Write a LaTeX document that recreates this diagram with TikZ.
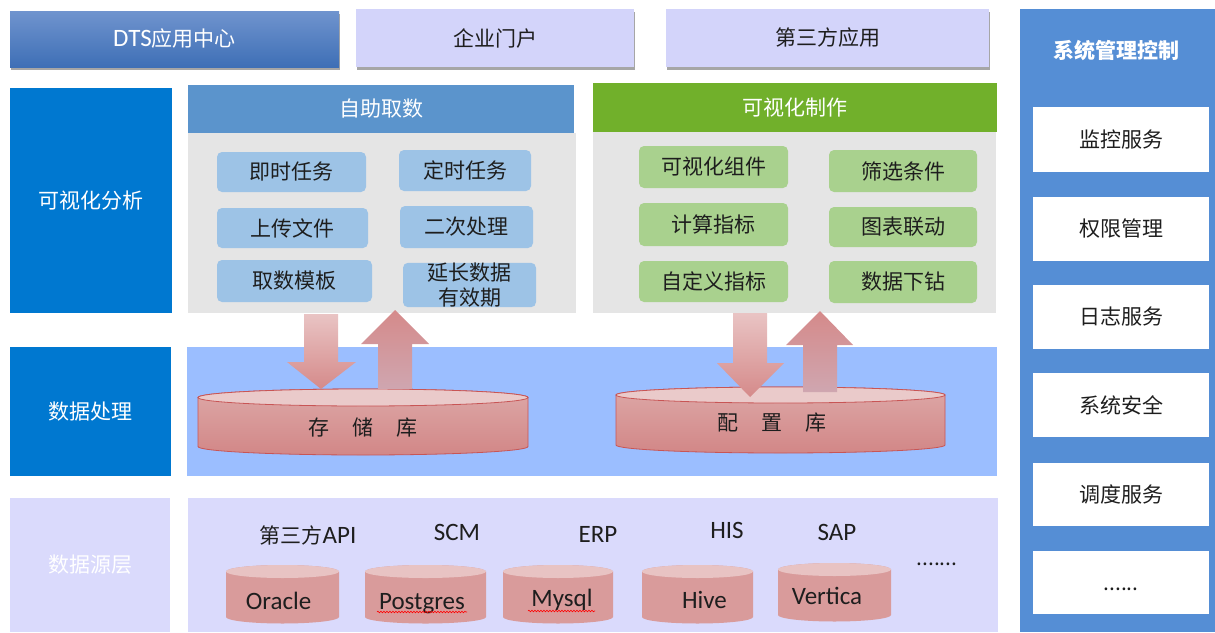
\documentclass[tikz,border=0pt]{standalone}
\usepackage{fontspec}
\setmainfont{Noto Sans CJK SC}
\newfontfamily\lat{Carlito}
\usetikzlibrary{shadows,decorations.pathmorphing}
\definecolor{dtsTop}{RGB}{112,148,206}
\definecolor{dtsBot}{RGB}{62,111,182}
\definecolor{lav}{RGB}{211,212,250}
\definecolor{lavsrc}{RGB}{218,218,252}
\definecolor{deepblue}{RGB}{0,120,208}
\definecolor{hdrblue}{RGB}{91,148,204}
\definecolor{panelgray}{RGB}{229,229,229}
\definecolor{itemblue}{RGB}{157,195,230}
\definecolor{hdrgreen}{RGB}{113,176,43}
\definecolor{itemgreen}{RGB}{169,209,142}
\definecolor{procblue}{RGB}{155,190,255}
\definecolor{sysblue}{RGB}{85,142,213}
\definecolor{cylTop}{RGB}{234,202,202}
\definecolor{cylHi}{RGB}{221,168,167}
\definecolor{cylLo}{RGB}{210,135,135}
\definecolor{cylEdge}{RGB}{200,85,85}
\definecolor{smallcyl}{RGB}{217,155,155}
\definecolor{smalltop}{RGB}{232,195,195}
\definecolor{arrLight}{RGB}{233,196,196}
\definecolor{arrDark}{RGB}{213,138,138}
\definecolor{arrMauve}{RGB}{207,166,176}
\definecolor{txt}{RGB}{30,30,30}
% style, x1, y1, x2, y2, name, text
\newcommand\mybox[7]{\node[#1,minimum width={#4-#2},minimum height={#5-#3}] (#6) at ({(#2+#4)/2},{(#3+#5)/2}) {#7};}
% body style, top style, cx, rx, ytop, ybot, ry
\newcommand\mycyl[7]{%
  \path[#1] ({#3-#4},#5) -- ({#3-#4},#6) arc[start angle=180,end angle=360,x radius=#4pt,y radius=#7pt]
     -- ({#3+#4},#5) arc[start angle=0,end angle=180,x radius=#4pt,y radius=#7pt] -- cycle;
  \path[#2] (#3,#5) ellipse [x radius=#4pt,y radius=#7pt];}
\newcommand\latf{\lat\fontsize{25}{28}\selectfont}
\begin{document}
\begin{tikzpicture}[x=1pt,y=-1pt,
  every node/.style={inner sep=0pt,outer sep=0pt,align=center,text=txt,font=\fontsize{21}{25}\selectfont},
  topbar/.style={drop shadow={shadow xshift=1pt,shadow yshift=-3pt,fill=black,opacity=0.35}},
  dtsbox/.style={topbar,top color=dtsTop,bottom color=dtsBot,text=white},
  lavbox/.style={topbar,fill=lav},
  sidelabel/.style={fill=deepblue,text=white},
  srclabel/.style={fill=lavsrc,text=white},
  hdrA/.style={fill=hdrblue,text=white},
  hdrB/.style={fill=hdrgreen,text=white},
  panel/.style={fill=panelgray},
  itemA/.style={fill=itemblue,rounded corners=5pt},
  itemB/.style={fill=itemgreen,rounded corners=5pt},
  band/.style={fill=procblue},
  srcband/.style={fill=lavsrc},
  sysbar/.style={fill=sysblue},
  sysitem/.style={fill=white},
  bigcyl/.style={top color=cylHi,bottom color=cylLo,draw=cylEdge,line width=0.8pt},
  bigtop/.style={fill=cylTop,draw=cylEdge,line width=0.8pt},
  smcyl/.style={fill=smallcyl},
  smtop/.style={fill=smalltop},
  dnarrow/.style={top color=arrLight,bottom color=arrDark},
  uparrow/.style={top color=arrDark,bottom color=arrMauve},
  latlbl/.style={font=\latf,text height=16pt,text depth=0pt},
  spell/.style={draw=red,line width=0.6pt,decorate,decoration={snake,amplitude=0.8pt,segment length=3pt}},
]
\useasboundingbox (0,0) rectangle (1215,632);
% top row
\mybox{dtsbox}{10}{11}{339}{67}{dts}{{\latf DTS}应用中心}
\mybox{lavbox}{356}{9}{634}{67}{portal}{企业门户}
\mybox{lavbox}{666}{9}{989}{67}{third}{第三方应用}
% left labels
\mybox{sidelabel}{10}{88}{172}{313}{va}{可视化分析}
\mybox{sidelabel}{10}{347}{171}{476}{dp}{数据处理}
\mybox{srclabel}{10}{498}{170}{632}{dsl}{数据源层}
% panels
\mybox{panel}{188}{133}{576}{313}{selfbody}{}
\mybox{hdrA}{188}{85}{574}{133}{selfhdr}{自助取数}
\mybox{panel}{593}{132}{996}{313}{visbody}{}
\mybox{hdrB}{593}{83}{997}{132}{vishdr}{可视化制作}
\mybox{itemA}{217}{152}{366}{192}{a1}{即时任务}
\mybox{itemA}{399}{150}{531}{191}{a2}{定时任务}
\mybox{itemA}{217}{208}{368}{248}{a3}{上传文件}
\mybox{itemA}{400}{206}{533}{248}{a4}{二次处理}
\mybox{itemA}{217}{260}{372}{302}{a5}{取数模板}
\mybox{itemA}{403}{264}{536}{306}{a6}{延长数据\\有效期}
\mybox{itemB}{639}{146}{788}{188}{b1}{可视化组件}
\mybox{itemB}{829}{150}{977}{192}{b2}{筛选条件}
\mybox{itemB}{639}{203}{788}{246}{b3}{计算指标}
\mybox{itemB}{829}{207}{977}{247}{b4}{图表联动}
\mybox{itemB}{639}{261}{788}{302}{b5}{自定义指标}
\mybox{itemB}{829}{261}{977}{303}{b6}{数据下钻}
% bands
\mybox{band}{187}{347}{997}{476}{proc}{}
\mybox{srcband}{188}{498}{998}{632}{src}{}
% system column
\mybox{sysbar}{1020}{9}{1215}{632}{sys}{}
\node[text=white,font=\bfseries\fontsize{21}{25}\selectfont] (systitle) at (1116,50) {系统管理控制};
\mybox{sysitem}{1033}{107}{1209}{172}{s1}{监控服务}
\mybox{sysitem}{1033}{197}{1209}{261}{s2}{权限管理}
\mybox{sysitem}{1033}{285}{1209}{349}{s3}{日志服务}
\mybox{sysitem}{1033}{373}{1209}{437}{s4}{系统安全}
\mybox{sysitem}{1033}{463}{1209}{526}{s5}{调度服务}
\mybox{sysitem}{1033}{551}{1209}{614}{s6}{\vphantom{监}......}
% big cylinders
\mycyl{bigcyl}{bigtop}{363}{165}{397.5}{446.5}{8.5}
\mycyl{bigcyl}{bigtop}{780.5}{164.5}{395}{445}{8}
% arrows
\path[dnarrow] (304,314) -- (338,314) -- (338,362) -- (356,362) -- (321,389) -- (287,362) -- (304,362) -- cycle;
\path[uparrow] (378,389) -- (378,344) -- (361,344) -- (395,310) -- (429,344) -- (412,344) -- (412,389) -- cycle;
\path[dnarrow] (733,313) -- (767,313) -- (767,363) -- (784,363) -- (750,397) -- (717,363) -- (733,363) -- cycle;
\path[uparrow] (803,392) -- (803,345) -- (786,345) -- (820,311) -- (853,345) -- (837,345) -- (837,392) -- cycle;
\node (store) at (363,428) {存\hspace{1.1em}储\hspace{1.1em}库};
\node (conf) at (772,423) {配\hspace{1.1em}置\hspace{1.1em}库};
% data sources
\node (api) at (308,535) {第三方{\latf API}};
\node[latlbl] (scm) at (457,532) {SCM};
\node[latlbl] (erp) at (598,534) {ERP};
\node[latlbl] (his) at (727,530) {HIS};
\node[latlbl] (sap) at (837,532) {SAP};
\node (more) at (937,564) {.......};
\mycyl{smcyl}{smtop}{282.5}{56.5}{571.5}{617}{6.5}
\mycyl{smcyl}{smtop}{425.5}{60.5}{571.5}{617}{6.5}
\mycyl{smcyl}{smtop}{558}{55}{571.5}{617}{6.5}
\mycyl{smcyl}{smtop}{697.5}{55.5}{571.5}{617}{6.5}
\mycyl{smcyl}{smtop}{834.5}{56.5}{569.5}{615}{6.5}
\node[latlbl] (oracle) at (278.5,601) {Oracle};
\node[latlbl] (pg) at (422,601) {Postgres};
\node[latlbl] (mysql) at (562,598) {Mysql};
\node[latlbl] (hive) at (704.5,600) {Hive};
\node[latlbl] (vert) at (827,596) {Vertica};
\draw[spell] (377,612) -- (467,612);
\draw[spell] (528,611) -- (595,611);
\end{tikzpicture}
\end{document}
